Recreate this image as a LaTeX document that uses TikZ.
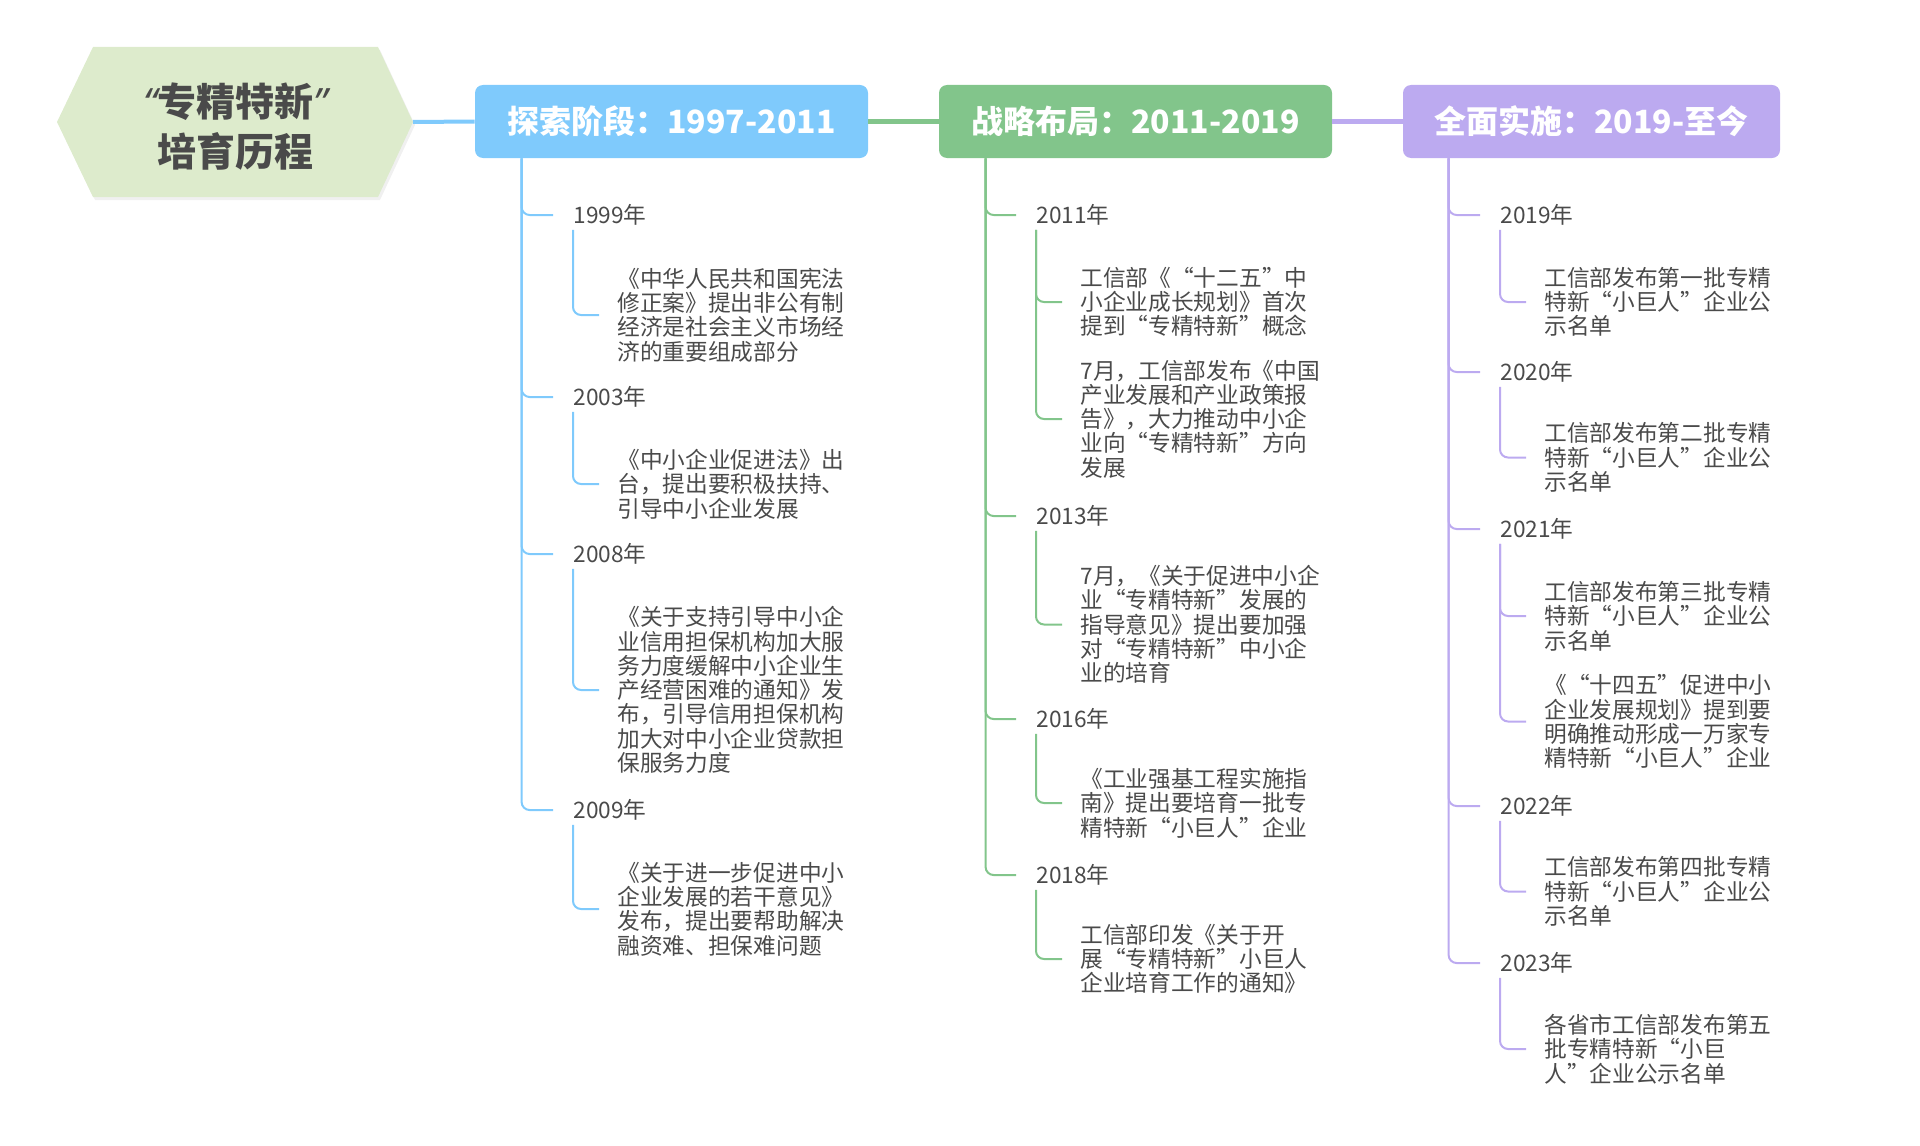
\documentclass[tikz,border=0pt]{standalone}
\usepackage{fontspec}
\setmainfont{Noto Sans CJK SC}
\newfontfamily\quotefont{Noto Sans}
\definecolor{stageblue}{HTML}{7FCAFC}
\definecolor{stagegreen}{HTML}{82C58B}
\definecolor{stagepurple}{HTML}{BCAAF0}
\definecolor{hexfill}{HTML}{DDEBCC}
\definecolor{txtgray}{HTML}{4A4A4A}
\tikzset{
  stagebox/.style={rounded corners=4pt, minimum height=36.5pt, inner sep=0pt, text=white, font=\fontsize{16pt}{19pt}\selectfont\bfseries},
  yearlabel/.style={anchor=west, inner xsep=10pt, inner ysep=2pt, text=txtgray, font=\fontsize{11.35pt}{12.15pt}\selectfont},
  desclabel/.style={anchor=west, align=left, inner xsep=9pt, inner ysep=0pt, text=txtgray, font=\fontsize{11.35pt}{12.15pt}\selectfont},
  trunk/.style={line width=1pt, rounded corners=4pt},
  link/.style={line width=2pt},
}

\begin{document}
\begin{tikzpicture}[x=0.5pt,y=-0.5pt]
            \useasboundingbox (0,0) rectangle (1920,1145);
            % root
            \fill[black,opacity=0.06] (59,125) -- (95,50) -- (380,50) -- (415,125) -- (380,200) -- (95,200) -- cycle;
            \fill[hexfill] (57,122) -- (93,47) -- (378,47) -- (413,122) -- (378,197) -- (93,197) -- cycle;
            \node[align=center, text=txtgray, font=\fontsize{19.5pt}{25pt}\selectfont\bfseries] (root) at (235,127) {{\quotefont\itshape “}专精特新{\quotefont\itshape ”}\\培育历程};
            \coordinate (rootE) at (413,122);
            % stages
            \node[stagebox, fill=stageblue, minimum width=196.5pt] (s1) at (671.5,121.5) {探索阶段：1997-2011};
            \node[stagebox, fill=stagegreen, minimum width=196.5pt] (s2) at (1135.5,121.5) {战略布局：2011-2019};
            \node[stagebox, fill=stagepurple, minimum width=188.5pt] (s3) at (1591.5,121.5) {全面实施：2019-至今};
            \draw[link, stageblue] (rootE) -- (s1.west);
            \draw[link, stagegreen] (s1.east) -- (s2.west);
            \draw[link, stagepurple] (s2.east) -- (s3.west);

            % 1997-2011
            \node[yearlabel] (y1999) at (553,215) {1999年};
            \node[desclabel] (d1999) at (599,315) {《中华人民共和国宪法\\修正案》提出非公有制\\经济是社会主义市场经\\济的重要组成部分};
            \node[yearlabel] (y2003) at (553,397) {2003年};
            \node[desclabel] (d2003) at (599,484) {《中小企业促进法》出\\台，提出要积极扶持、\\引导中小企业发展};
            \node[yearlabel] (y2008) at (553,554) {2008年};
            \node[desclabel] (d2008) at (599,690) {《关于支持引导中小企\\业信用担保机构加大服\\务力度缓解中小企业生\\产经营困难的通知》发\\布，引导信用担保机构\\加大对中小企业贷款担\\保服务力度};
            \node[yearlabel] (y2009) at (553,810) {2009年};
            \node[desclabel] (d2009) at (599,909) {《关于进一步促进中小\\企业发展的若干意见》\\发布，提出要帮助解决\\融资难、担保难问题};
            \foreach \yr in {1999,2003,2008,2009}{
                \draw[trunk, stageblue] ([xshift=23.5pt]s1.south west) |- (y\yr.west);
                \draw[trunk, stageblue] ([xshift=10pt]y\yr.south west) |- (d\yr.west);
            }

            % 2011-2019
            \node[yearlabel] (y2011) at (1016,215) {2011年};
            \node[desclabel] (d2011a) at (1062,302) {工信部《“十二五”中\\小企业成长规划》首次\\提到“专精特新”概念};
            \node[desclabel] (d2011b) at (1062,419) {7月，工信部发布《中国\\产业发展和产业政策报\\告》，大力推动中小企\\业向“专精特新”方向\\发展};
            \node[yearlabel] (y2013) at (1016,516) {2013年};
            \node[desclabel] (d2013) at (1062,624.5) {7月，《关于促进中小企\\业“专精特新”发展的\\指导意见》提出要加强\\对“专精特新”中小企\\业的培育};
            \node[yearlabel] (y2016) at (1016,719) {2016年};
            \node[desclabel] (d2016) at (1062,803) {《工业强基工程实施指\\南》提出要培育一批专\\精特新“小巨人”企业};
            \node[yearlabel] (y2018) at (1016,875) {2018年};
            \node[desclabel] (d2018) at (1062,959) {工信部印发《关于开\\展“专精特新”小巨人\\企业培育工作的通知》};
            \foreach \yr in {2011,2013,2016,2018}
                \draw[trunk, stagegreen] ([xshift=23.5pt]s2.south west) |- (y\yr.west);
            \foreach \yr/\ds in {2011/2011a,2011/2011b,2013/2013,2016/2016,2018/2018}
                \draw[trunk, stagegreen] ([xshift=10pt]y\yr.south west) |- (d\ds.west);

            % 2019-
            \node[yearlabel] (y2019) at (1480,215) {2019年};
            \node[desclabel] (d2019) at (1526,302) {工信部发布第一批专精\\特新“小巨人”企业公\\示名单};
            \node[yearlabel] (y2020) at (1480,372) {2020年};
            \node[desclabel] (d2020) at (1526,457.5) {工信部发布第二批专精\\特新“小巨人”企业公\\示名单};
            \node[yearlabel] (y2021) at (1480,529) {2021年};
            \node[desclabel] (d2021a) at (1526,616) {工信部发布第三批专精\\特新“小巨人”企业公\\示名单};
            \node[desclabel] (d2021b) at (1526,721.5) {《“十四五”促进中小\\企业发展规划》提到要\\明确推动形成一万家专\\精特新“小巨人”企业};
            \node[yearlabel] (y2022) at (1480,806) {2022年};
            \node[desclabel] (d2022) at (1526,891.5) {工信部发布第四批专精\\特新“小巨人”企业公\\示名单};
            \node[yearlabel] (y2023) at (1480,963) {2023年};
            \node[desclabel] (d2023) at (1526,1049) {各省市工信部发布第五\\批专精特新“小巨\\人”企业公示名单};
            \foreach \yr in {2019,2020,2021,2022,2023}
                \draw[trunk, stagepurple] ([xshift=23pt]s3.south west) |- (y\yr.west);
            \foreach \yr/\ds in {2019/2019,2020/2020,2021/2021a,2021/2021b,2022/2022,2023/2023}
                \draw[trunk, stagepurple] ([xshift=10pt]y\yr.south west) |- (d\ds.west);
        \end{tikzpicture}
\end{document}
